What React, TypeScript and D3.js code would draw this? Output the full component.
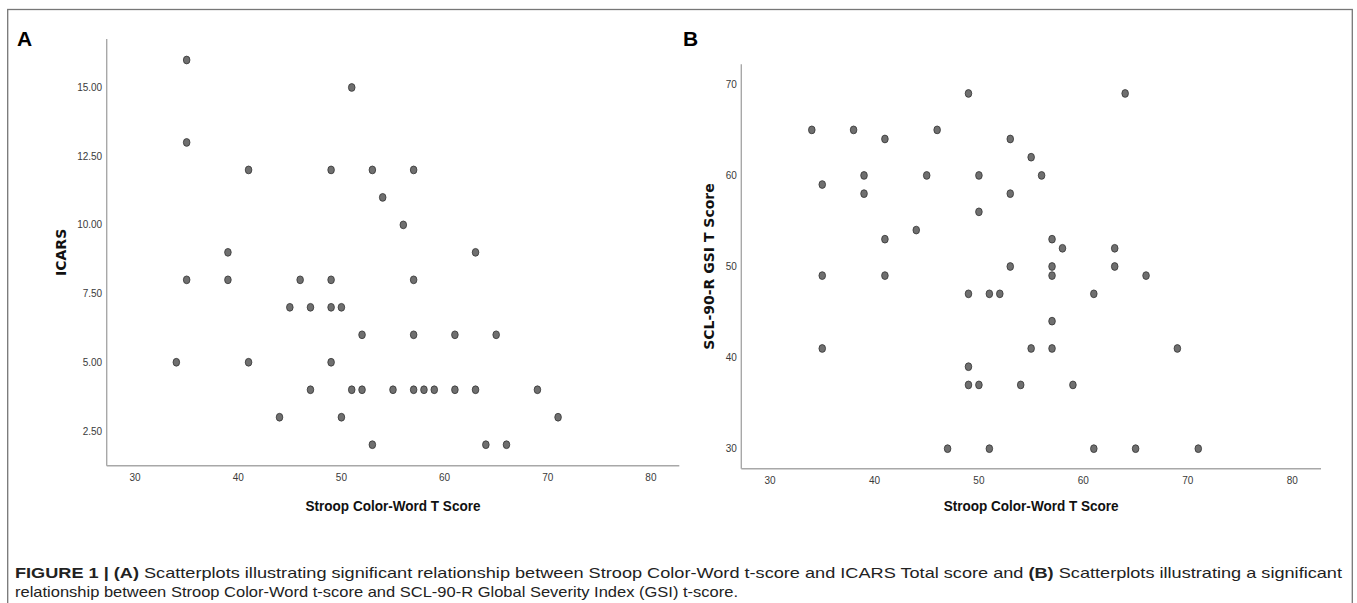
import * as d3 from "d3";

// Panel A: Stroop Color-Word T score vs ICARS
const aStroop = [35, 51, 35, 41, 49, 53, 57, 54, 56, 39, 63, 35, 39, 46, 49, 57, 45, 47, 49, 50, 52, 57, 61, 65, 34, 41, 49, 47, 51, 52, 55, 57, 58, 59, 61, 63, 69, 44, 50, 71, 53, 64, 66];
const aIcars = [16, 15, 13, 12, 12, 12, 12, 11, 10, 9, 9, 8, 8, 8, 8, 8, 7, 7, 7, 7, 6, 6, 6, 6, 5, 5, 5, 4, 4, 4, 4, 4, 4, 4, 4, 4, 4, 3, 3, 3, 2, 2, 2];

// Panel B: Stroop Color-Word T score vs SCL-90-R GSI T score
const bStroop = [49, 64, 34, 38, 46, 41, 53, 55, 39, 45, 50, 56, 35, 39, 53, 50, 44, 41, 57, 58, 63, 53, 57, 63, 35, 41, 57, 66, 49, 51, 52, 61, 57, 35, 55, 57, 69, 49, 49, 50, 54, 59, 47, 51, 61, 65, 71];
const bGsi = [69, 69, 65, 65, 65, 64, 64, 62, 60, 60, 60, 60, 59, 58, 58, 56, 54, 53, 53, 52, 52, 50, 50, 50, 49, 49, 49, 49, 47, 47, 47, 47, 44, 41, 41, 41, 41, 39, 37, 37, 37, 37, 30, 30, 30, 30, 30];

const xTicks = [30, 40, 50, 60, 70, 80];
const aYTicks = [2.5, 5, 7.5, 10, 12.5, 15];
const bYTicks = [30, 40, 50, 60, 70];

const xTitle = "Stroop Color-Word T Score";
const aYTitle = "ICARS";
const bYTitle = "SCL-90-R GSI T Score";

const axisColor = "#a8a8a8";
const tickColor = "#3a3a3a";
const tickFont = "'Liberation Sans', Arial, sans-serif";

type PanelProps = {
  label: string;
  xs: number[];
  ys: number[];
  yTicks: number[];
  yFmt: (v: number) => string;
  xDomain: [number, number];
  yDomain: [number, number];
  left: number;
  right: number;
  top: number;
  bottom: number;
  labelX: number;
  yTitle: string;
  yTitleX: number;
};

function Panel(p: PanelProps) {
  const x = d3.scaleLinear().domain(p.xDomain).range([p.left, p.right]);
  const y = d3.scaleLinear().domain(p.yDomain).range([p.bottom, p.top]);
  const pts = d3.zip(p.xs, p.ys);
  const midY = (p.top + p.bottom) / 2;
  return (
    <g>
      <text x={p.labelX} y={46} fontFamily="'Liberation Sans', Arial, sans-serif" fontWeight="bold" fontSize={21}>
        {p.label}
      </text>
      {/* axes */}
      <line x1={p.left} x2={p.left} y1={p.top} y2={p.bottom} stroke={axisColor} strokeWidth={1.4} />
      <line x1={p.left} x2={p.right} y1={p.bottom} y2={p.bottom} stroke={axisColor} strokeWidth={1.4} />
      {p.yTicks.map((t) => (
        <text key={"y" + t} x={p.left - 4.5} y={y(t) + 3.6} textAnchor="end" fontFamily={tickFont} fontSize={10} fill={tickColor}>
          {p.yFmt(t)}
        </text>
      ))}
      {xTicks.map((t) => (
        <text key={"x" + t} x={x(t)} y={p.bottom + 15.5} textAnchor="middle" fontFamily={tickFont} fontSize={10} fill={tickColor}>
          {t}
        </text>
      ))}
      <text
        x={(p.left + p.right) / 2}
        y={511}
        textAnchor="middle"
        fontFamily="'Liberation Sans', Arial, sans-serif"
        fontWeight="bold"
        fontSize={15}
        textLength={175}
        lengthAdjust="spacingAndGlyphs"
        fill="#111"
      >
        {xTitle}
      </text>
      <text
        transform={`translate(${p.yTitleX},${midY}) rotate(-90)`}
        textAnchor="middle"
        fontFamily="'DejaVu Sans', Verdana, sans-serif"
        fontWeight="bold"
        fontSize={14}
        fill="#111"
      >
        {p.yTitle}
      </text>
      {pts.map(([a, b], i) => (
        <ellipse key={i} cx={x(a)} cy={y(b)} rx={3.3} ry={3.9} fill="#6f6f6f" stroke="#333" strokeWidth={0.8} />
      ))}
    </g>
  );
}

export default function App() {
  return (
    <svg
      width={1357}
      height={603}
      style={{ position: "absolute", left: 0, top: 0, background: "#fff" }}
    >
      <rect x={7.7} y={9.5} width={1344.6} height={620} fill="none" stroke="#777" strokeWidth={1.3} />
      <Panel
        label="A"
        xs={aStroop}
        ys={aIcars}
        yTicks={aYTicks}
        yFmt={(v) => v.toFixed(2)}
        xDomain={[27.25, 82.75]}
        yDomain={[1.236, 16.764]}
        left={106.7}
        right={679.3}
        top={39}
        bottom={465.7}
        labelX={17}
        yTitle={aYTitle}
        yTitleX={66}
      />
      <Panel
        label="B"
        xs={bStroop}
        ys={bGsi}
        yTicks={bYTicks}
        yFmt={(v) => String(v)}
        xDomain={[27.25, 82.75]}
        yDomain={[27.8, 72.2]}
        left={741.3}
        right={1321}
        top={64.3}
        bottom={468.7}
        labelX={683}
        yTitle={bYTitle}
        yTitleX={714}
      />
      <g fontFamily="'Liberation Sans', Arial, Helvetica, sans-serif" fontSize={15} fill="#222">
        <text x={15} y={577.5} textLength={1327} lengthAdjust="spacingAndGlyphs">
          <tspan fontWeight="bold">FIGURE 1 | (A)</tspan> Scatterplots illustrating significant relationship between Stroop Color-Word t-score and ICARS Total score and <tspan fontWeight="bold">(B)</tspan> Scatterplots illustrating a significant
        </text>
        <text x={15} y={597} textLength={723} lengthAdjust="spacingAndGlyphs">
          relationship between Stroop Color-Word t-score and SCL-90-R Global Severity Index (GSI) t-score.
        </text>
      </g>
    </svg>
  );
}
